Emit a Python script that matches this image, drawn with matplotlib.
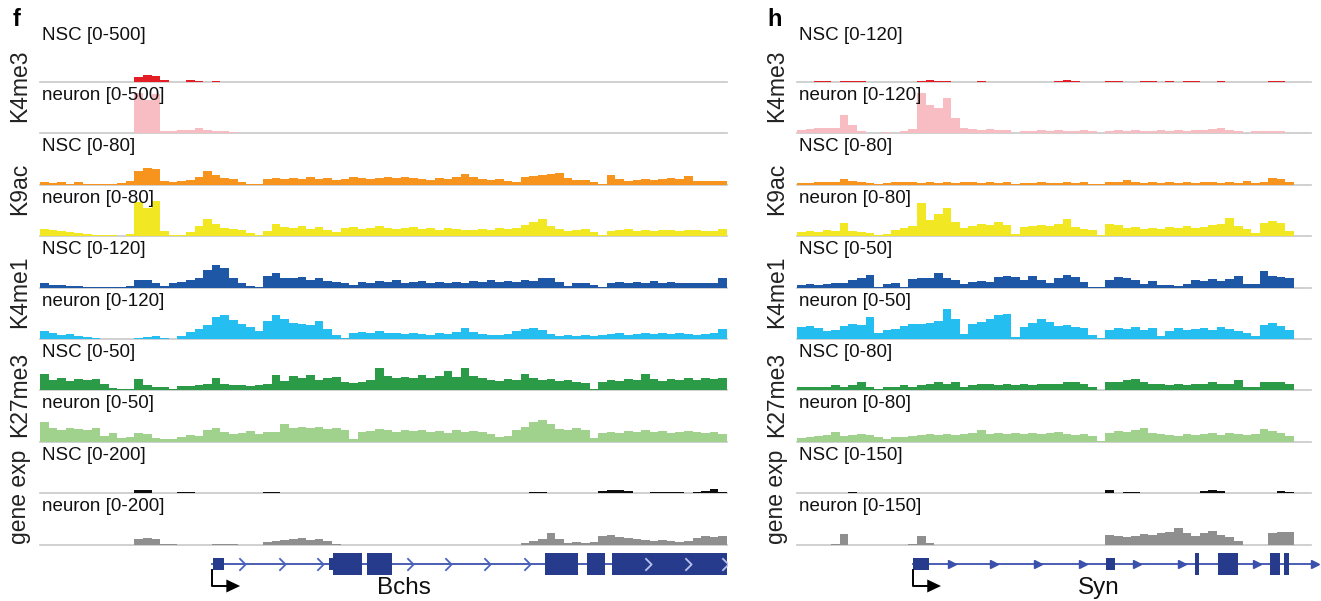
import numpy as np
import matplotlib
matplotlib.use("Agg")
import matplotlib.pyplot as plt
from matplotlib.patches import Rectangle
from matplotlib.path import Path

plt.rcParams['font.family'] = ['Liberation Sans', 'DejaVu Sans']

W, H = 1321, 601

# ---------------- panel f : Bchs locus, 80 bins ----------------
f_k4me3_nsc = [0,0,0,0,0,0,0,0,0,0, 0,50,70,65,25,0,5,20,15,0,
               15,5,0,0,0,0,0,0,0,0, 0,0,0,0,0,0,0,0,0,0,
               0,0,0,0,0,0,0,0,0,0, 0,0,0,0,0,0,0,0,0,0,
               0,0,0,0,0,0,0,0,0,0, 0,0,0,0,0,0,0,0,0,0]
f_k4me3_neu = [0,0,0,0,5,0,0,0,0,0, 5,400,330,390,20,20,30,35,55,35,
               25,20,10,5,5,0,5,5,0,8, 5,0,0,5,5,0,5,8,5,0,
               5,0,0,0,5,5,5,0,0,5, 0,0,5,5,5,5,0,5,5,0,
               0,5,5,5,5,0,0,5,5,5, 0,5,5,5,0,5,5,5,5,5]
f_k9ac_nsc = [5,3,5,2,4,1,1,1,2,3, 6,22,27,26,6,5,6,8,13,22,
              16,11,10,5,2,1,10,11,10,11, 10,13,10,11,8,10,13,11,10,11,
              13,11,13,11,10,8,11,10,13,18, 13,10,8,10,6,5,13,14,16,18,
              19,11,8,8,5,2,16,10,6,8, 10,8,10,11,10,14,6,6,6,6]
f_k9ac_neu = [11,10,8,6,5,3,2,2,2,1, 3,54,45,56,8,2,2,6,16,27,
              19,13,11,10,5,2,8,19,14,13, 16,11,14,10,6,13,14,11,13,16,
              13,11,13,14,11,13,10,13,11,10, 10,11,10,13,11,13,18,22,27,16,
              11,8,10,11,6,2,8,10,11,8, 10,8,10,10,8,10,10,8,8,11]
f_k4me1_nsc = [10,7,7,5,5,1,2,1,1,1, 5,19,19,10,5,12,14,19,24,43,
               55,48,24,10,5,2,29,34,24,22, 26,19,22,17,14,10,7,14,12,17,
               14,19,12,14,17,12,14,10,14,12, 17,14,19,14,17,14,19,17,24,22,
               14,5,10,12,7,2,12,14,10,14, 12,17,12,14,10,12,12,10,12,22]
f_k4me1_neu = [19,14,10,12,7,5,2,1,1,1, 1,2,5,7,2,1,7,17,24,34,
               53,58,46,36,29,19,43,58,48,38, 36,34,43,24,10,2,14,17,14,19,
               14,14,12,14,12,10,14,12,17,26, 17,12,10,10,12,19,24,26,22,12,
               7,10,7,10,7,10,12,14,10,12, 14,12,14,12,14,12,10,12,14,24]
f_k27_nsc = [16,10,12,9,11,10,11,6,2,1, 1,11,5,3,3,1,4,4,5,6,
             12,6,5,5,4,5,6,15,9,14, 12,15,10,12,13,8,7,8,10,22,
             14,12,13,12,15,12,14,19,13,22, 14,12,10,9,11,10,16,12,10,11,
             9,10,8,7,1,8,10,9,11,10, 16,11,9,11,10,12,10,12,11,12]
f_k27_neu = [20,14,12,14,13,12,14,6,9,4, 5,9,8,4,3,3,5,7,6,12,
             14,10,8,9,11,8,10,10,18,14, 15,14,15,13,14,12,3,10,11,13,
             12,10,12,11,12,10,11,9,12,10, 11,10,8,5,6,12,15,20,22,18,
             13,12,14,12,4,9,10,9,11,10, 12,10,11,9,10,11,10,9,10,8]
f_exp_nsc = [0,0,0,0,0,0,0,0,0,0, 0,12,12,0,0,0,4,4,0,0,
             0,0,0,0,0,0,6,6,0,0, 0,0,0,0,0,0,0,0,0,0,
             0,0,0,0,0,0,0,0,0,0, 0,0,0,0,0,0,0,6,6,0,
             0,0,0,0,0,8,14,12,8,0, 0,6,6,6,4,0,4,8,16,4]
f_exp_neu = [0,0,0,0,0,0,0,0,0,0, 0,24,28,24,4,2,0,0,0,0,
             4,4,4,0,0,0,12,16,20,24, 28,20,24,16,4,0,0,0,0,0,
             0,0,0,0,0,0,0,0,0,0, 0,0,0,0,0,0,8,16,24,48,
             24,8,12,8,12,36,40,32,28,24, 20,16,20,16,12,16,28,36,32,36]
f_ranges = [500, 500, 80, 80, 120, 120, 50, 50, 200, 200]

# ---------------- panel h : Syn locus, 58 bins ----------------
h_k4me3_nsc = [0,0,2,2,0,2,2,2,0,0, 0,0,0,0,3,4,2,2,0,0,
               0,2,0,0,0,0,0,0,0,0, 3,4,3,0,0,0,2,2,0,0,
               3,3,0,2,0,3,3,0,0,2, 0,0,0,0,0,3,3,0]
h_k4me3_neu = [7,10,12,14,14,43,19,5,2,2, 4,2,5,10,96,67,62,86,36,14,
               10,7,10,7,7,2,5,5,7,5, 7,5,5,7,5,2,5,7,5,7,
               5,5,7,5,7,5,7,7,10,12, 7,5,2,5,5,5,5,2]
h_k9ac_nsc = [3,3,5,5,5,10,6,5,3,1, 3,5,5,5,3,5,3,5,3,5,
              5,3,5,3,5,1,3,3,5,3, 3,5,3,5,2,1,5,5,8,5,
              3,5,3,5,3,5,3,5,5,3, 5,3,6,3,5,11,10,5]
h_k9ac_neu = [6,8,6,10,8,21,8,6,5,2, 3,10,13,16,53,26,35,45,22,13,
              16,19,18,22,18,3,14,16,18,16, 19,27,14,11,10,2,19,18,13,14,
              11,13,11,14,13,16,13,14,18,19, 29,16,11,5,21,24,21,8]
h_k4me1_nsc = [3,4,3,4,5,5,8,10,13,0.5, 4,5,1,9,10,10,15,10,8,4,
               6,7,6,11,12,11,8,12,8,5, 10,13,11,6,1,0.5,8,11,10,8,
               4,7,3,3,2,4,8,7,9,7, 9,12,4,4,17,12,11,10]
h_k4me1_neu = [12,13,11,8,9,13,15,14,22,6, 9,10,13,15,15,16,18,30,20,5,
               15,17,20,24,25,2,12,16,20,17, 13,14,12,11,4,1,9,11,10,12,
               9,11,3,8,11,9,10,11,9,12, 10,8,6,3,14,16,13,9]
h_k27_nsc = [5,6,5,6,8,6,8,14,6,2, 6,6,8,6,8,10,13,11,13,5,
             8,10,10,8,10,8,10,8,10,11, 10,13,14,10,6,1,13,14,16,19,
             13,11,10,8,10,8,11,10,13,10, 11,16,6,5,13,14,14,11]
h_k27_neu = [6,8,10,11,16,10,11,13,11,8, 5,8,8,10,11,13,11,13,11,13,
             14,19,13,14,13,14,13,14,13,14, 16,13,11,13,10,2,14,18,16,19,
             22,14,13,11,10,13,11,13,14,11, 14,13,11,13,21,18,14,10]
h_exp_nsc = [0,0,0,0,0,0,4,0,0,0, 0,0,0,0,0,0,0,0,0,0,
             0,0,0,0,0,0,0,0,0,0, 0,0,0,0,0,0,9,0,4,3,
             0,0,0,0,0,0,0,6,9,6, 0,0,0,0,0,0,6,4]
h_exp_neu = [0,0,0,0,3,33,0,0,0,0, 0,0,0,3,27,6,0,0,0,0,
             0,0,0,0,0,0,0,0,0,0, 0,0,0,0,0,0,30,27,24,27,
             33,30,36,39,51,36,27,36,42,30, 24,12,0,0,0,36,39,39]
h_ranges = [120, 120, 80, 80, 50, 50, 80, 80, 150, 150]

groups = ['K4me3', 'K9ac', 'K4me1', 'K27me3', 'gene exp']
cells = ['NSC', 'neuron']
colors = ['#e31e24', '#f8bdc2', '#f7941d', '#f1e723', '#1d57a6',
          '#25bef0', '#2b9b48', '#a0d28d', '#0d0d0d', '#8f8f8f']

# gene models (positions in bins of the panel)
bchs_start, bchs_end = 20.0, 80.0
bchs_exons = [(20.1, 21.4, 'utr'), (33.7, 34.1, 'utr'), (34.1, 37.5, 'cds'),
              (38.1, 41.0, 'cds'), (58.8, 62.6, 'cds'), (63.7, 65.8, 'cds'),
              (66.6, 80.0, 'cds')]
bchs_marks = [23.5, 28.2, 32.6, 43.1, 47.5, 52.1, 56.7]
bchs_inner_marks = [70.8, 75.5, 79.8]
syn_start, syn_end = 13.5, 60.4
syn_exons = [(13.5, 15.4, 'utr'), (36.1, 37.1, 'utr'), (46.4, 46.9, 'cds'),
             (49.1, 51.5, 'cds'), (55.2, 56.4, 'cds'), (56.8, 57.4, 'cds')]
syn_marks = [18.1, 23.0, 28.1, 33.4, 39.7, 44.9, 53.7]

fig = plt.figure(figsize=(W / 100, H / 100), dpi=100)


def px_axes(x0, y0, x1, y1):
    ax = fig.add_axes([x0 / W, 1 - y1 / H, (x1 - x0) / W, (y1 - y0) / H])
    ax.set_facecolor('none')
    ax.axis('off')
    return ax


chevron = Path([(-0.5, 1), (0.5, 0), (-0.5, -1)],
               [Path.MOVETO, Path.LINETO, Path.LINETO])


def draw_panel(x0, binw, xmax, tracks, ranges, letter, letter_x, group_x,
               gene, gene_name, name_x, gene_xmax):
    fig.text(letter_x / W, 1 - 19 / H, letter, fontsize=17, fontweight='bold',
             ha='center', va='center')
    x1 = x0 + xmax * binw
    for k, (vals, rng) in enumerate(zip(tracks, ranges)):
        base = 82 + 51.4 * k
        ax = px_axes(x0, base - 50, x1, base)
        ax.axhline(0, color='#c8c8c8', lw=1.2, clip_on=False, zorder=1)
        ax.stairs(vals, np.arange(len(vals) + 1), fill=True,
                  color=colors[k], lw=0, zorder=2)
        ax.set_xlim(0, xmax)
        ax.set_ylim(0, rng)
        ly = 0.93 if k == 0 else 0.76
        ax.text(0.003, ly, f'{cells[k % 2]} [0-{rng}]', transform=ax.transAxes,
                fontsize=13.5, ha='left', va='center', color='#111111', zorder=5)
        if k % 2 == 0:
            fig.text(group_x / W, 1 - (base + 4) / H, groups[k // 2],
                     rotation=90, fontsize=16.5, ha='center', va='center',
                     color='#222222')

    start, end, exons, marks, inner, filled = gene
    gx = px_axes(x0, 548, x0 + gene_xmax * binw, 601)
    gx.set_xlim(0, gene_xmax)
    gx.set_ylim(-37, 16)
    line_c, exon_c = '#3b50ad', '#263b8c'
    gx.plot([start, end], [0, 0], color=line_c, lw=1.3, zorder=1)
    for s, e, kind in exons:
        h = 11 if kind == 'cds' else 6
        gx.add_patch(Rectangle((s, -h), e - s, 2 * h, color=exon_c, lw=0, zorder=2))
    if filled:
        gx.plot(marks, [0] * len(marks), ls='none', marker='>', ms=5.5,
                color=line_c, zorder=3)
        gx.plot([end], [0], ls='none', marker='>', ms=6, color=line_c, zorder=3)
    else:
        gx.plot(marks, [0] * len(marks), ls='none', marker=chevron, ms=9,
                mfc='none', mec='#4a62c2', mew=1.3, zorder=3)
        gx.plot(inner, [0] * len(inner), ls='none', marker=chevron, ms=9,
                mfc='none', mec='#b8c2ea', mew=1.3, zorder=3)
    # transcription start arrow
    gx.plot([start, start, start + 1.8], [-6, -22, -22], color='black', lw=1.4, zorder=3)
    gx.fill([start + 1.7, start + 1.7, start + 3.3], [-15.5, -28.5, -22],
            color='black', lw=0, zorder=3)
    gx.text(name_x, -30, gene_name, fontsize=17.5, ha='center', va='baseline',
            color='#111111')


draw_panel(40, 687 / 80, 80,
           [f_k4me3_nsc, f_k4me3_neu, f_k9ac_nsc, f_k9ac_neu, f_k4me1_nsc,
            f_k4me1_neu, f_k27_nsc, f_k27_neu, f_exp_nsc, f_exp_neu],
           f_ranges, 'f', 17, 20,
           (bchs_start, bchs_end, bchs_exons, bchs_marks, bchs_inner_marks, False),
           'Bchs', 42.4, 80)

draw_panel(797, 497 / 58, 60,
           [h_k4me3_nsc, h_k4me3_neu, h_k9ac_nsc, h_k9ac_neu, h_k4me1_nsc,
            h_k4me1_neu, h_k27_nsc, h_k27_neu, h_exp_nsc, h_exp_neu],
           h_ranges, 'h', 775, 777,
           (syn_start, syn_end, syn_exons, syn_marks, [], True),
           'Syn', 35.2, 61)

fig.savefig('out.png', dpi=100)
